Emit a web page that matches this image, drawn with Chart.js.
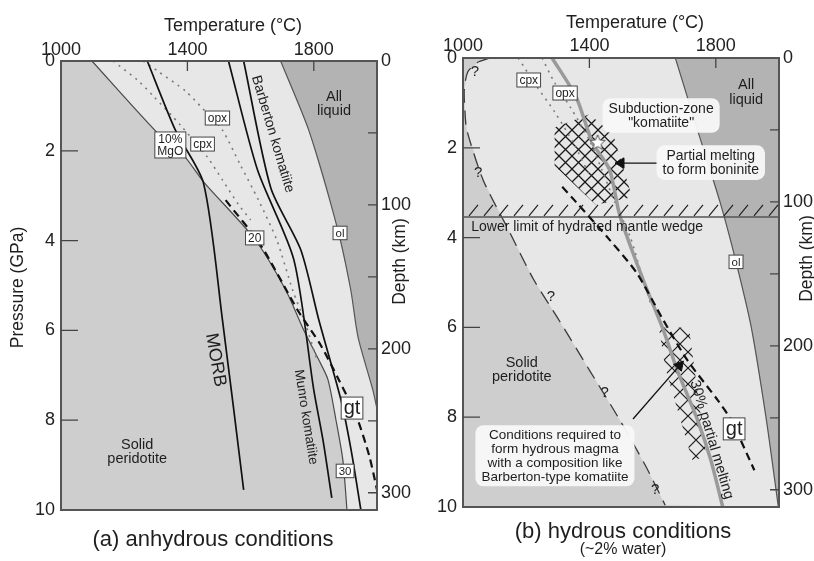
<!DOCTYPE html>
<html lang="en">
<head>
<meta charset="UTF-8" />
<title>Komatiite melting: anhydrous vs hydrous</title>
<script src="https://cdn.jsdelivr.net/npm/chart.js"></script>
<style>
  body { margin: 0; background: #fff; }
  #wrap { position: relative; width: 814px; height: 561px; }
  #wrap canvas { position: absolute; left: 0; top: 0; }
</style>
</head>
<body>
<div id="wrap">
  <canvas id="chartA" width="814" height="561"></canvas>
  <canvas id="chartB" width="814" height="561"></canvas>
</div>
<script>
// all curves are [temperature °C, pressure GPa]
const tempTicks = [1000, 1400, 1800];
const pressureTicks = [0, 2, 4, 6, 8, 10];
const depthTicks = [0, 50, 100, 150, 200, 250, 300];
const depthMax = 312; // km at 10 GPa

// (a) anhydrous conditions
const aSolidus = [[1098,0],[1305,1.6],[1387,2.09],[1451,2.69],[1610,3.94],[1711,5.1],[1768,5.99],[1816,6.66],[1845,7.1],[1870,7.99],[1892,8.89],[1905,10]];
const aLiquidus = [[1695,0],[1784,1.54],[1876,3.76],[1917,5.1],[1940,6.15],[1987,7.33],[2000,7.75]];
const aMorb = [[1273,0],[1362,1.54],[1451,2.72],[1511,5.77],[1578,9.55]];
const aMunro = [[1530,0],[1622,2.43],[1737,4.43],[1800,7.33],[1829,8.44],[1857,9.73]];
const aBarberton = [[1578,0],[1664,2.83],[1759,4.21],[1816,5.77],[1886,7.55],[1918,8.66],[1949,10]];
const aCpxOut = [[1165,0],[1241,0.42],[1292,0.78],[1378,1.43],[1463,2.14],[1511,2.65],[1562,3.2],[1600,3.54]];
const aOpxOut = [[1260,0],[1305,0.22],[1394,0.67],[1467,1.2],[1511,1.54],[1568,2.32],[1625,3.1],[1683,3.99],[1733,5.1],[1775,5.88],[1810,6.66]];
const aGarnetIn = [[1521,3.1],[1632,4.1],[1749,5.55],[1822,6.33],[1879,7.1],[1933,7.88],[1975,8.78],[2000,9.55]];

// (b) hydrous conditions (~2% water)
const bSolidus = [[1085,0],[1048,0.09],[1015,0.31],[1004,0.71],[1006,1.16],[1012,1.6],[1064,2.72],[1144,3.83],[1224,4.94],[1304,5.84],[1400,6.95],[1496,8.06],[1576,9.06],[1640,9.96]];
const bLiquidus = [[1672,0],[1742,1.6],[1816,3.27],[1864,4.54],[1912,5.99],[1960,8.06],[1998,10]];
const bMelt30 = [[1282,0],[1358,0.87],[1410,1.89],[1464,2.49],[1496,3.5],[1570,4.94],[1634,6.06],[1678,6.95],[1742,8.06],[1784,8.95],[1822,10]];
const bCpxOut = [[1175,0],[1230,0.6],[1290,1.2],[1350,1.9],[1400,2.6]];
const bOpxOut = [[1250,0],[1290,0.55],[1340,1.1],[1400,1.83],[1440,2.5],[1480,3.2],[1530,4.0],[1560,4.7],[1595,5.5]];
const bGarnetIn = [[1314,2.87],[1358,3.21],[1464,4.05],[1550,4.79],[1634,5.84],[1710,6.73],[1806,7.62],[1848,8.06],[1922,9.18]];
const bBoniniteZone = [[1290,1.55],[1400,1.25],[1475,1.7],[1535,3.1],[1420,3.27],[1290,2.4]];
const bBarbertonZone = [[1620,6.0],[1715,6.0],[1770,8.9],[1725,8.95],[1640,6.9]];
const bWedgeLimit = 3.54;
const bWedgeTop = 3.27;
const bStar = [[1426,1.89]];
const bArrowBoninite = [[1618,2.34],[1500,2.34]];
const bArrowBarberton = [[1538,8.04],[1685,6.85]];

const FONT = '"Liberation Sans", Arial, Helvetica, sans-serif';
const SOLID = '#cecece', LIGHT = '#e7e7e7', LIQUID = '#b3b3b3';
Chart.defaults.font.family = FONT;

const pts = arr => arr.map(([x, y]) => ({ x, y }));

function curve(data, color, width, dash, order, tension) {
  return { data: pts(data), showLine: true, borderColor: color, borderWidth: width,
    borderDash: dash || [], pointRadius: 0, fill: false, tension: tension == null ? 0.25 : tension, order };
}
function region(data, color, order) {
  return { data: pts(data), showLine: true, borderColor: 'rgba(0,0,0,0)', borderWidth: 1,
    pointRadius: 0, fill: 'shape', backgroundColor: color, tension: 0, order };
}
function arrow(data, rot) {
  return { data: pts(data), showLine: true, borderColor: '#111', borderWidth: 1.3, tension: 0,
    pointRadius: [0, 6], pointStyle: 'triangle', pointRotation: rot,
    pointBackgroundColor: '#111', pointBorderColor: '#111', pointBorderWidth: 1, order: 1 };
}
function crossHatch(size, width) {
  const c = document.createElement('canvas');
  c.width = c.height = size;
  const g = c.getContext('2d');
  g.strokeStyle = '#1a1a1a'; g.lineWidth = width;
  g.beginPath(); g.moveTo(0, 0); g.lineTo(size, size); g.moveTo(size, 0); g.lineTo(0, size); g.stroke();
  return g.createPattern(c, 'repeat');
}
function starImage(r) {
  const s = Math.ceil(r * 2 + 4);
  const c = document.createElement('canvas');
  c.width = c.height = s;
  const g = c.getContext('2d');
  g.beginPath();
  for (let i = 0; i < 10; i++) {
    const a = -Math.PI / 2 + i * Math.PI / 5, rr = i % 2 ? r * 0.45 : r;
    g.lineTo(s / 2 + rr * Math.cos(a), s / 2 + rr * Math.sin(a));
  }
  g.closePath(); g.fillStyle = '#fff'; g.fill(); g.strokeStyle = '#555'; g.lineWidth = 1; g.stroke();
  return c;
}

function scalesFor(cfg) {
  const tickFont = { family: FONT, size: 18 };
  const noPad = s => { s.paddingTop = 0; s.paddingBottom = 0; s.paddingLeft = 0; s.paddingRight = 0; };
  const plain = v => String(v);
  return {
    x: { type: 'linear', position: 'top', min: 1000, max: 2000,
      afterBuildTicks: s => { s.ticks = tempTicks.map(v => ({ value: v })); },
      afterFit: s => { s.height = cfg.top; noPad(s); },
      grid: { display: false, drawTicks: false }, border: { display: false },
      ticks: { font: tickFont, color: '#222', padding: cfg.xPad, maxRotation: 0, autoSkip: false, callback: plain } },
    y: { type: 'linear', position: 'left', reverse: true, min: 0, max: 10,
      afterBuildTicks: s => { s.ticks = pressureTicks.map(v => ({ value: v })); },
      afterFit: s => { s.width = cfg.leftW; noPad(s); },
      grid: { display: false, drawTicks: false }, border: { display: false },
      ticks: { font: tickFont, color: '#222', padding: 6, autoSkip: false, callback: plain } },
    depth: { type: 'linear', position: 'right', reverse: true, min: 0, max: depthMax,
      afterBuildTicks: s => { s.ticks = depthTicks.map(v => ({ value: v })); },
      afterFit: s => { s.width = cfg.rightW; noPad(s); },
      grid: { display: false, drawTicks: false }, border: { display: false },
      ticks: { font: tickFont, color: '#222', padding: 4, autoSkip: false,
        callback: v => (v % 100 === 0 ? String(v) : '') } }
  };
}

function textLines(ctx, lines, x, y, size, lh, align) {
  ctx.font = size + 'px ' + FONT;
  ctx.textAlign = align || 'center';
  ctx.textBaseline = 'middle';
  const y0 = y - (lines.length - 1) * lh / 2;
  lines.forEach((l, i) => ctx.fillText(l, x, y0 + i * lh));
}

function panelPlugin(spec) {
  return {
    id: 'panel' + spec.name,
    beforeDraw(chart) {
      const { ctx, chartArea: a } = chart;
      ctx.save();
      ctx.fillStyle = SOLID;
      ctx.fillRect(a.left, a.top, a.right - a.left, a.bottom - a.top);
      ctx.restore();
    },
    afterDatasetsDraw(chart) {
      const { ctx, chartArea: a, scales } = chart;
      const X = t => scales.x.getPixelForValue(t);
      const Y = p => scales.y.getPixelForValue(p);
      const D = d => scales.depth.getPixelForValue(d);
      ctx.save();

      // hatch strokes above the hydrated-wedge limit
      if (spec.wedge) {
        const yb = Y(spec.wedge[0]), yt = Y(spec.wedge[1]);
        ctx.strokeStyle = '#222'; ctx.lineWidth = 1.2;
        ctx.beginPath();
        for (let x = a.left + 6; x + 9 < a.right; x += 15) {
          ctx.moveTo(x, yb - 1); ctx.lineTo(x + 9, yt);
        }
        ctx.stroke();
      }

      // frame and inward ticks
      ctx.strokeStyle = '#555'; ctx.lineWidth = 2;
      ctx.strokeRect(a.left, a.top, a.right - a.left, a.bottom - a.top);
      ctx.lineWidth = 1.3; ctx.strokeStyle = '#444';
      ctx.beginPath();
      tempTicks.slice(1).forEach(t => { ctx.moveTo(X(t), a.top); ctx.lineTo(X(t), a.top + 10); });
      pressureTicks.slice(1, -1).forEach(p => { ctx.moveTo(a.left, Y(p)); ctx.lineTo(a.left + 17, Y(p)); });
      depthTicks.slice(1).forEach(d => { ctx.moveTo(a.right, D(d)); ctx.lineTo(a.right - 9, D(d)); });
      ctx.stroke();

      ctx.fillStyle = '#1e1e1e';
      // plain labels
      spec.labels.forEach(l => {
        const x = X(l.at[0]), y = Y(l.at[1]);
        ctx.save(); ctx.translate(x, y);
        if (l.angle) ctx.rotate(l.angle * Math.PI / 180);
        textLines(ctx, l.text, 0, 0, l.size, l.size * 0.98, l.align);
        ctx.restore();
      });

      // rounded call-out boxes
      (spec.callouts || []).forEach(c => {
        const x = X(c.at[0]), y = Y(c.at[1]);
        ctx.font = c.size + 'px ' + FONT;
        const lh = c.size * 1.02;
        const w = Math.max(...c.text.map(t => ctx.measureText(t).width)) + 12;
        const h = c.text.length * lh + 6;
        ctx.fillStyle = 'rgba(248,248,248,0.95)';
        ctx.beginPath(); ctx.roundRect(x - w / 2, y - h / 2, w, h, 8); ctx.fill();
        ctx.fillStyle = '#1e1e1e';
        textLines(ctx, c.text, x, y + 0.5, c.size, lh);
      });

      // small boxed labels
      spec.boxes.forEach(b => {
        const x = X(b.at[0]), y = Y(b.at[1]);
        ctx.font = b.size + 'px ' + FONT;
        const lh = b.size * 1.0;
        const w = Math.max(...b.text.map(t => ctx.measureText(t).width)) + 5;
        const h = b.text.length * lh + 2;
        ctx.fillStyle = '#fff';
        ctx.fillRect(x - w / 2, y - h / 2, w, h);
        ctx.strokeStyle = '#444'; ctx.lineWidth = 1;
        ctx.strokeRect(x - w / 2, y - h / 2, w, h);
        ctx.fillStyle = '#1e1e1e';
        textLines(ctx, b.text, x, y + 0.5, b.size, lh);
      });

      // axis titles and caption
      ctx.fillStyle = '#1e1e1e';
      const midX = (a.left + a.right) / 2, midY = (a.top + a.bottom) / 2;
      textLines(ctx, ['Temperature (°C)'], midX + 14, a.top - 35, 18, 18);
      if (spec.pressureTitle) {
        ctx.save(); ctx.translate(18, midY + 2); ctx.rotate(-Math.PI / 2);
        textLines(ctx, ['Pressure (GPa)'], 0, 0, 17.5, 17); ctx.restore();
      }
      ctx.save(); ctx.translate(a.right + spec.depthDx, midY - 24); ctx.rotate(-Math.PI / 2);
      textLines(ctx, ['Depth (km)'], 0, 0, 17.5, 17); ctx.restore();
      spec.caption.forEach(c => textLines(ctx, [c.text], midX + c.dx, a.bottom + c.dy, c.size, c.size));
      ctx.restore();
    }
  };
}

const baseOptions = (cfg) => ({
  responsive: false, animation: false, events: [],
  layout: { padding: cfg.padding },
  plugins: { legend: { display: false }, tooltip: { enabled: false } },
  scales: scalesFor(cfg)
});

// ---------- (a) anhydrous ----------
const specA = {
  name: 'A', pressureTitle: true, depthDx: 23,
  labels: [
    { text: ['All', 'liquid'], at: [1864, 0.95], size: 14.5 },
    { text: ['Solid', 'peridotite'], at: [1241, 8.7], size: 14.5 },
    { text: ['Barberton komatiite'], at: [1670, 1.63], size: 14, angle: 73.5 },
    { text: ['MORB'], at: [1489, 6.66], size: 18, angle: 80 },
    { text: ['Munro komatiite'], at: [1775, 7.93], size: 13.5, angle: 81 }
  ],
  boxes: [
    { text: ['10%', 'MgO'], at: [1346, 1.87], size: 12 },
    { text: ['cpx'], at: [1448, 1.85], size: 12 },
    { text: ['opx'], at: [1495, 1.27], size: 12 },
    { text: ['20'], at: [1613, 3.94], size: 12 },
    { text: ['30'], at: [1899, 9.13], size: 11.5 },
    { text: ['ol'], at: [1883, 3.83], size: 11.5 },
    { text: ['gt'], at: [1921, 7.73], size: 20 }
  ],
  caption: [{ text: '(a) anhydrous conditions', dx: -6, dy: 30, size: 22 }]
};
new Chart(document.getElementById('chartA'), {
  type: 'scatter',
  data: { datasets: [
    region([...aSolidus, [2000, 10], [2000, 0]], LIGHT, 20),
    region([...aLiquidus, [2000, 0]], LIQUID, 19),
    curve(aSolidus, '#4a4a4a', 1.2, null, 6),
    curve(aLiquidus, '#555', 1.2, null, 6),
    curve(aCpxOut, '#7a7a7a', 1.6, [2, 5], 5),
    curve(aOpxOut, '#7a7a7a', 1.6, [2, 5], 5),
    curve(aMorb, '#111', 1.7, null, 4),
    curve(aMunro, '#111', 1.7, null, 4),
    curve(aBarberton, '#111', 1.7, null, 4),
    curve(aGarnetIn, '#111', 2.2, [8, 5], 3)
  ] },
  options: baseOptions({ top: 61, leftW: 61, rightW: 40, xPad: 0,
    padding: { left: 0, top: 0, right: 814 - 377 - 40, bottom: 561 - 510 } }),
  plugins: [panelPlugin(specA)]
});

// ---------- (b) hydrous ----------
const specB = {
  name: 'B', pressureTitle: false, depthDx: 28, wedge: [bWedgeLimit, bWedgeTop],
  labels: [
    { text: ['All', 'liquid'], at: [1896, 0.77], size: 14.5 },
    { text: ['Solid', 'peridotite'], at: [1186, 6.95], size: 14.5 },
    { text: ['?'], at: [1038, 0.31], size: 15 },
    { text: ['?'], at: [1048, 2.56], size: 15 },
    { text: ['?'], at: [1278, 5.32], size: 15 },
    { text: ['?'], at: [1448, 7.46], size: 15 },
    { text: ['?'], at: [1608, 9.62], size: 15 },
    { text: ['Lower limit of hydrated mantle wedge'], at: [1026, 3.76], size: 14, align: 'left' },
    { text: ['30% partial melting'], at: [1787, 8.5], size: 14.5, angle: 73.5 }
  ],
  callouts: [
    { text: ['Subduction-zone', '"komatiite"'], at: [1627, 1.28], size: 14 },
    { text: ['Partial melting', 'to form boninite'], at: [1784, 2.33], size: 14 },
    { text: ['Conditions required to', 'form hydrous magma', 'with a composition like', 'Barberton-type komatiite'], at: [1291, 8.86], size: 13.5 }
  ],
  boxes: [
    { text: ['cpx'], at: [1208, 0.49], size: 12 },
    { text: ['opx'], at: [1323, 0.78], size: 12 },
    { text: ['ol'], at: [1864, 4.54], size: 11.5 },
    { text: ['gt'], at: [1858, 8.26], size: 20 }
  ],
  caption: [
    { text: '(b) hydrous conditions', dx: 2, dy: 25, size: 22 },
    { text: '(~2% water)', dx: 2, dy: 43, size: 16 }
  ]
};
new Chart(document.getElementById('chartB'), {
  type: 'scatter',
  data: { datasets: [
    region([...bSolidus, [2000, 10], [2000, 0]], LIGHT, 20),
    region([...bLiquidus, [2000, 10], [2000, 0]], LIQUID, 19),
    region(bBoniniteZone, crossHatch(13, 1.3), 15),
    region(bBarbertonZone, crossHatch(16, 1.2), 15),
    curve(bSolidus, '#3a3a3a', 1.3, [14, 8], 6),
    curve(bLiquidus, '#555', 1.2, null, 6),
    curve(bCpxOut, '#7a7a7a', 1.6, [2, 5], 5),
    curve(bOpxOut, '#7a7a7a', 1.6, [2, 5], 5),
    curve(bMelt30, '#9a9a9a', 3.5, null, 4),
    curve(bGarnetIn, '#111', 2.2, [8, 5], 3),
    curve([[1000, bWedgeLimit], [2000, bWedgeLimit]], '#555', 1.5, null, 3, 0),
    arrow(bArrowBoninite, -90),
    arrow(bArrowBarberton, 41),
    { data: pts(bStar), showLine: false, pointStyle: starImage(8), pointRadius: 8, order: 0 }
  ] },
  options: baseOptions({ top: 58, leftW: 56, rightW: 35, xPad: 1,
    padding: { left: 463 - 56, top: 0, right: 814 - 779 - 35, bottom: 561 - 507 } }),
  plugins: [panelPlugin(specB)]
});
</script>
</body>
</html>
